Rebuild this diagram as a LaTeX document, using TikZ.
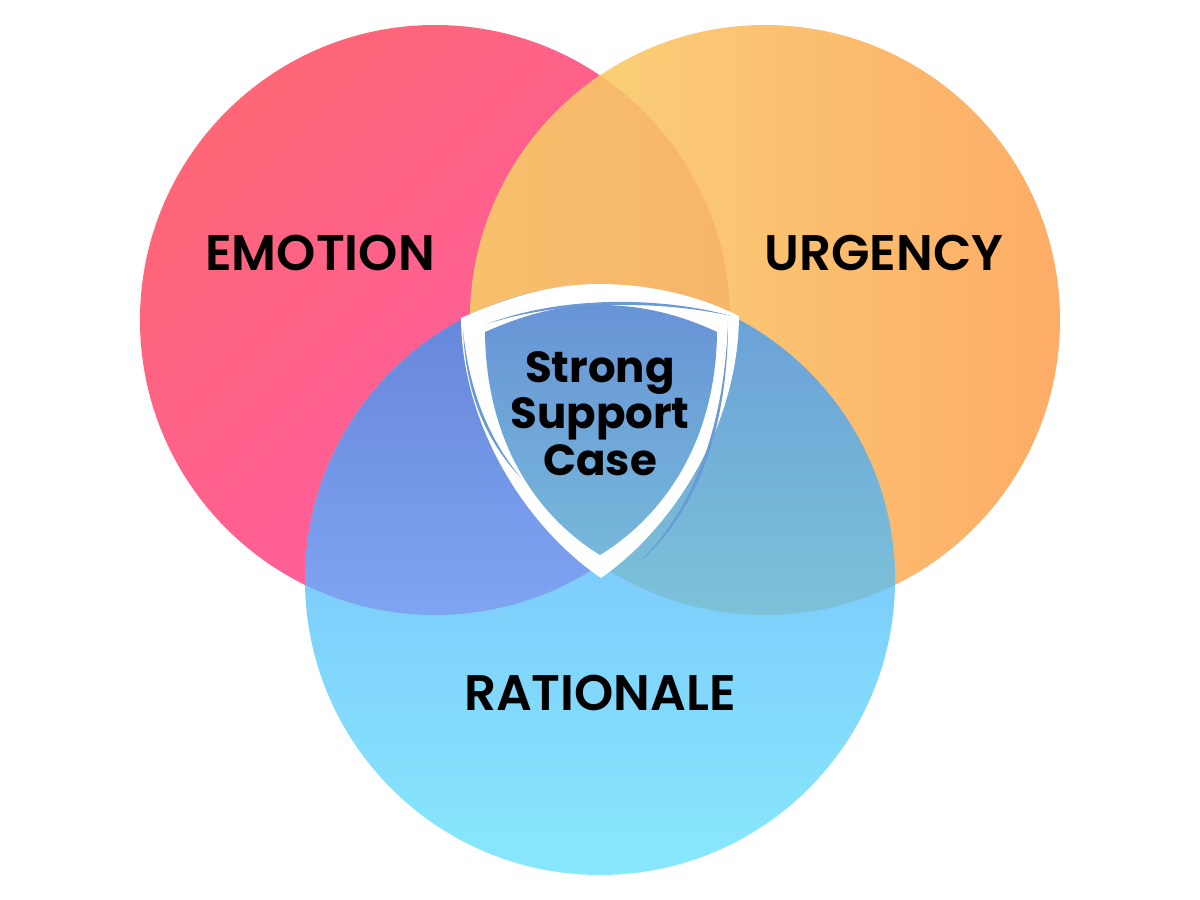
\documentclass[tikz,border=0pt]{standalone}
\usepackage{fontspec}
\newfontfamily\popsemi{Poppins SemiBold}
\newfontfamily\popbold{Poppins Bold}
\definecolor{emoL}{HTML}{FF6676}
\definecolor{emoR}{HTML}{FF5AAA}
\definecolor{urgL}{HTML}{F9D87C}
\definecolor{urgR}{HTML}{FDAC66}
\definecolor{euL}{HTML}{F7C06C}
\definecolor{euR}{HTML}{F8A666}
\definecolor{ratT}{HTML}{73B4FC}
\definecolor{ratB}{HTML}{88E8FC}
\definecolor{erT}{HTML}{6584D8}
\definecolor{erB}{HTML}{7FA4F2}
\definecolor{urT}{HTML}{6A9ED8}
\definecolor{urB}{HTML}{7CC2D8}
\definecolor{triple}{HTML}{6C9ADA}
\definecolor{shT}{HTML}{6894D6}
\definecolor{shB}{HTML}{76B8DA}
\definecolor{swoosh}{HTML}{6A9AD6}
\tikzset{
  label/.style={font=\popsemi\fontsize{50}{54}\selectfont, text=black, anchor=base},
  centre/.style={font=\popbold\fontsize{43.5}{47}\selectfont, text=black, align=center, anchor=base},
}
\begin{document}
\begin{tikzpicture}[x=1pt,y=-1pt]
\useasboundingbox (0,0) rectangle (1200,900);
\fill[white] (0,0) rectangle (1200,900);
\coordinate (E) at (435,320);
\coordinate (U) at (765,320);
\coordinate (R) at (600,580);
% base circles
\path[shading=axis, top color=emoL, bottom color=emoR, shading angle=45] (E) circle[radius=295];
\path[left color=urgL,right color=urgR] (U) circle[radius=295];
\begin{scope}
  \clip (E) circle[radius=295];
  \path[left color=euL,right color=euR] (U) circle[radius=295];
\end{scope}
\path[top color=ratT,bottom color=ratB] (R) circle[radius=295];
\begin{scope}
  \clip (R) circle[radius=295];
  \clip (E) circle[radius=295];
  \path[top color=erT,bottom color=erB] (100,285) rectangle (700,615);
\end{scope}
\begin{scope}
  \clip (R) circle[radius=295];
  \clip (U) circle[radius=295];
  \path[top color=urT,bottom color=urB] (500,285) rectangle (1100,615);
\end{scope}
\begin{scope}
  \clip (R) circle[radius=295];
  \clip (U) circle[radius=295];
  \clip (E) circle[radius=295];
  \fill[triple] (400,280) rectangle (800,620);
\end{scope}
% shield outer
\fill[white] (461,318) .. controls (520,292) and (560,284) .. (600,284)
  .. controls (645,284) and (695,294) .. (739,316)
  .. controls (738,430) and (670,530) .. (601,578)
  .. controls (530,530) and (462,430) .. cycle;
% shield inner
\path[top color=shT,bottom color=shB] (485,332) .. controls (530,312) and (565,305) .. (600,305)
  .. controls (635,305) and (675,312) .. (717,332)
  .. controls (716,440) and (665,515) .. (600,555)
  .. controls (535,515) and (486,440) .. cycle;
% swooshes
\fill[swoosh] (487,324) .. controls (560,296) and (660,296) .. (731,316)
  .. controls (660,300) and (560,300) .. cycle;
\fill[swoosh] (463,330) .. controls (466,400) and (490,445) .. (521,478)
  .. controls (494,445) and (470,400) .. cycle;
\fill[swoosh] (728,322) .. controls (728,440) and (690,520) .. (637,564)
  .. controls (685,520) and (724,440) .. cycle;
% labels
\node[label] (emo) at (320,270) {EMOTION};
\node[label] (urg) at (884,270) {URGENCY};
\node[label] (rat) at (600,710) {RATIONALE};
\node[centre] (ssc) at (600,382) {Strong};
\node[centre] (ssc2) at (600,428) {Support};
\node[centre] (ssc3) at (600,475) {Case};
\end{tikzpicture}
\end{document}
